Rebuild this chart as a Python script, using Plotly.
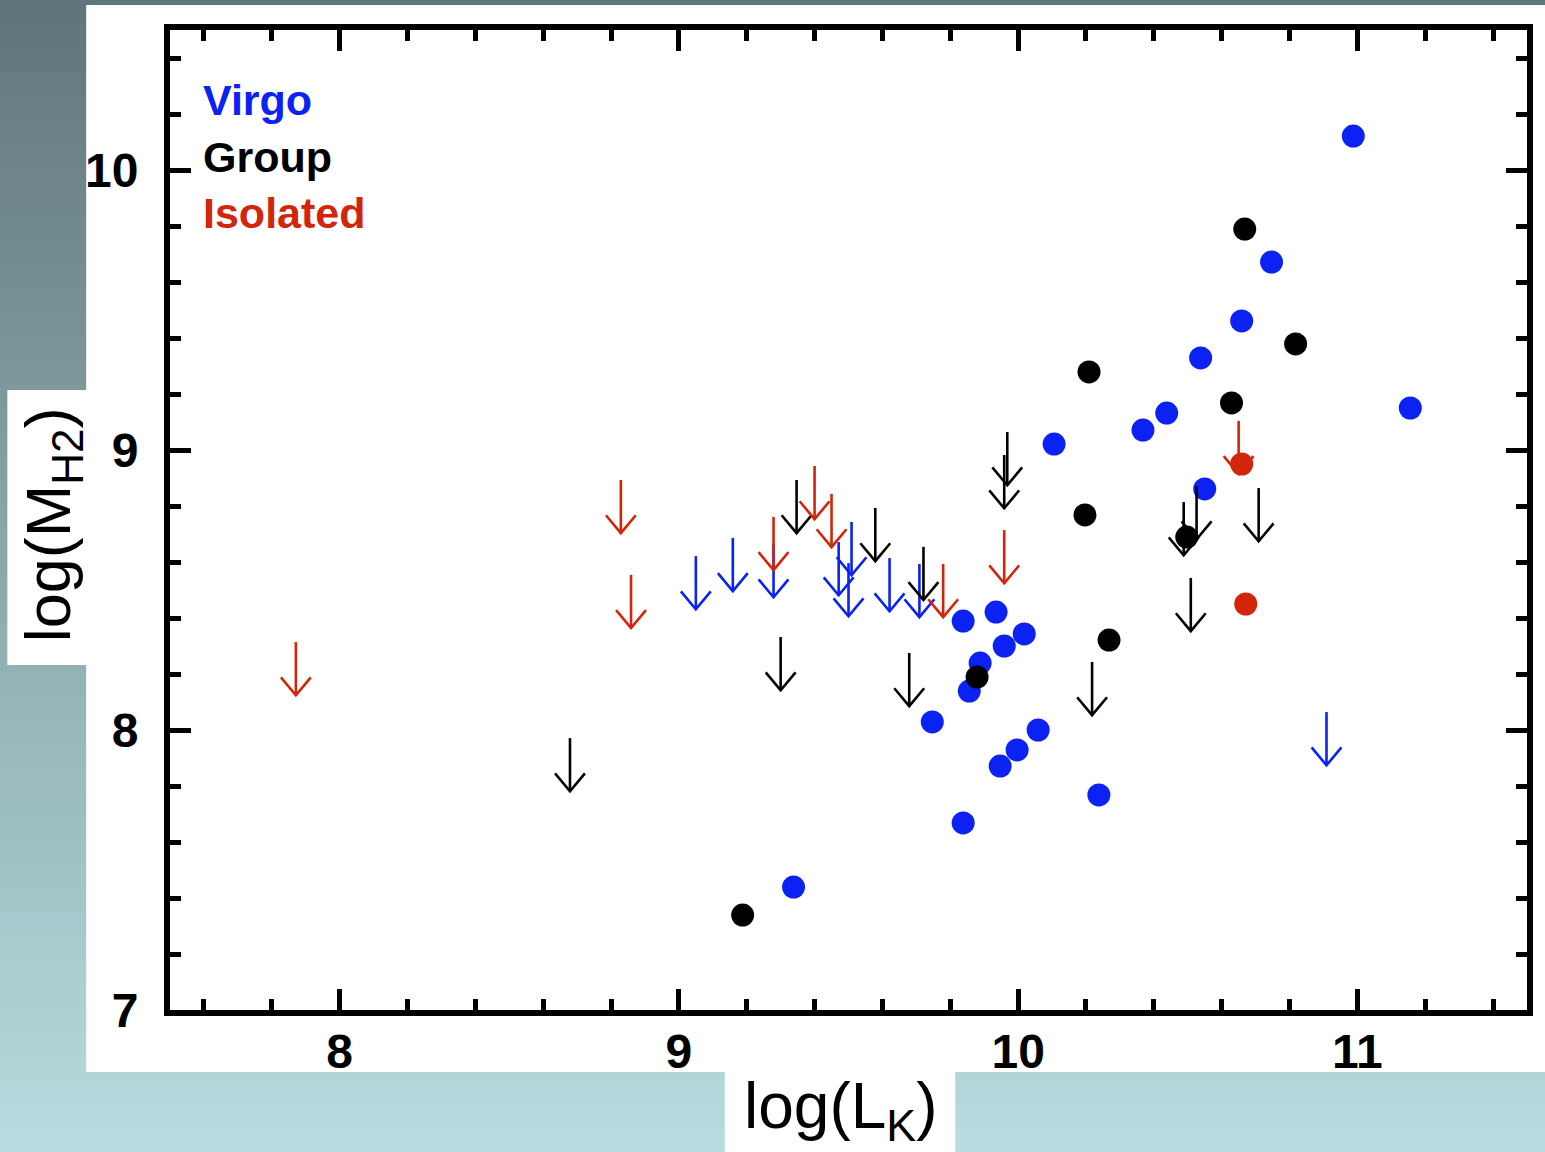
import plotly.graph_objects as go

# ---------------- data ----------------
virgo_x = [10.988, 10.747, 10.659, 10.538, 11.156, 10.438, 10.368, 10.106, 10.55,
           9.838, 9.935, 10.018, 9.959, 9.888, 9.856, 9.747, 10.059, 9.997, 9.947,
           10.238, 9.838, 9.338]
virgo_y = [10.121, 9.671, 9.461, 9.329, 9.15, 9.132, 9.071, 9.021, 8.861,
           8.389, 8.421, 8.343, 8.30, 8.239, 8.139, 8.029, 8.00, 7.929, 7.871,
           7.768, 7.668, 7.439]

group_x = [10.668, 10.818, 10.209, 10.629, 10.197, 10.497, 10.268, 9.879, 9.188]
group_y = [9.789, 9.379, 9.279, 9.168, 8.768, 8.689, 8.321, 8.189, 7.339]

isolated_x = [10.659, 10.671]
isolated_y = [8.95, 8.45]

# upper limits (arrow start points)
virgo_lim_x = [9.05, 9.159, 9.279, 9.471, 9.509, 9.50, 9.621, 9.709, 10.909]
virgo_lim_y = [8.621, 8.686, 8.664, 8.671, 8.743, 8.596, 8.614, 8.593, 8.064]

group_lim_x = [8.679, 9.30, 9.347, 9.579, 9.679, 9.721, 9.968, 9.959, 10.218,
               10.488, 10.526, 10.509, 10.709]
group_lim_y = [7.971, 8.332, 8.893, 8.793, 8.275, 8.654, 9.064, 8.982, 8.243,
               8.814, 8.871, 8.543, 8.864]

isolated_lim_x = [7.871, 8.829, 8.859, 9.279, 9.40, 9.45, 9.779, 9.959, 10.65]
isolated_lim_y = [8.314, 8.893, 8.554, 8.761, 8.943, 8.843, 8.593, 8.714, 9.104]

x_ticks = [8, 9, 10, 11]
y_ticks = [7, 8, 9, 10]
legend_labels = ["Virgo", "Group", "Isolated"]

# ---------------- style ----------------
BLUE = "#0B22F2"
BLACK = "#000000"
RED = "#D2250A"
W, H = 1545, 1152
ML, MR, MT, MB = 170, 15, 30, 142
PW, PH = W - ML - MR, H - MT - MB

ARROW_LEN = 0.19
HEAD_DX = 0.044
HEAD_DY = 0.064


def px2paper_x(px):
    return (px - ML) / PW


def px2paper_y(py):
    return (H - MB - py) / PH


def arrow_path(xs, ys):
    ox, oy = [], []
    for x, y in zip(xs, ys):
        tip = y - ARROW_LEN
        ox += [x, x, None, x - HEAD_DX, x, x + HEAD_DX, None]
        oy += [y, tip, None, tip + HEAD_DY, tip, tip + HEAD_DY, None]
    return ox, oy


fig = go.Figure()

fig.add_trace(go.Scatter(x=virgo_x, y=virgo_y, mode="markers",
                         marker=dict(size=23, color=BLUE), showlegend=False))
for lx, ly, col in [(virgo_lim_x, virgo_lim_y, BLUE),
                    (group_lim_x, group_lim_y, BLACK),
                    (isolated_lim_x, isolated_lim_y, RED)]:
    ax_, ay_ = arrow_path(lx, ly)
    fig.add_trace(go.Scatter(x=ax_, y=ay_, mode="lines",
                             line=dict(color=col, width=2.6),
                             showlegend=False, hoverinfo="skip"))
fig.add_trace(go.Scatter(x=group_x, y=group_y, mode="markers",
                         marker=dict(size=23, color=BLACK), showlegend=False))
fig.add_trace(go.Scatter(x=isolated_x, y=isolated_y, mode="markers",
                         marker=dict(size=23, color=RED), showlegend=False))

# background gradient
shapes = []
top = (96, 117, 121)
bot = (184, 221, 224)
n = 48
for i in range(n):
    y0p = i * H / n
    y1p = (i + 1) * H / n + 1
    t = (i + 0.5) / n
    c = tuple(int(round(top[k] + (bot[k] - top[k]) * t)) for k in range(3))
    shapes.append(dict(type="rect", xref="paper", yref="paper", layer="below",
                       x0=px2paper_x(-10), x1=px2paper_x(W + 10),
                       y0=px2paper_y(y1p), y1=px2paper_y(y0p),
                       fillcolor="rgb(%d,%d,%d)" % c, line=dict(width=0)))
# white panels
for (x0, x1, y0, y1) in [(86, W + 10, 5, 1072), (7, 90, 390, 665), (726, 957, 1068, 1160)]:
    shapes.append(dict(type="rect", xref="paper", yref="paper", layer="below",
                       x0=px2paper_x(x0), x1=px2paper_x(x1),
                       y0=px2paper_y(y1), y1=px2paper_y(y0),
                       fillcolor="white", line=dict(width=0)))

annotations = []
leg_colors = [BLUE, BLACK, RED]
leg_py = [100, 157, 213]
for lab, col, py in zip(legend_labels, leg_colors, leg_py):
    annotations.append(dict(text="<b>%s</b>" % lab, xref="paper", yref="paper",
                            x=px2paper_x(201), y=px2paper_y(py),
                            xanchor="left", yanchor="middle", showarrow=False,
                            font=dict(family="Liberation Sans", size=43, color=col)))
annotations.append(dict(text="log(L<sub>K</sub>)", xref="paper", yref="paper",
                        x=px2paper_x(842), y=px2paper_y(1110),
                        xanchor="center", yanchor="middle", showarrow=False,
                        font=dict(family="Liberation Sans", size=64, color="black")))
annotations.append(dict(text="log(M<sub>H2</sub>)", xref="paper", yref="paper",
                        x=px2paper_x(52), y=px2paper_y(525), textangle=-90,
                        xanchor="center", yanchor="middle", showarrow=False,
                        font=dict(family="Liberation Sans", size=63, color="black")))

axis_common = dict(showline=True, linewidth=6, linecolor="black", mirror="ticks",
                   ticks="inside", ticklen=21, tickwidth=5, tickcolor="black",
                   showgrid=False, zeroline=False,
                   tickfont=dict(family="Liberation Sans", size=48, color="black",
                                 weight="bold"),
                   minor=dict(ticks="inside", ticklen=11, tickwidth=5,
                              tickcolor="black", dtick=0.2, showgrid=False))

fig.update_layout(
    width=W, height=H,
    margin=dict(l=ML, r=MR, t=MT, b=MB),
    paper_bgcolor="rgb(150,180,185)",
    plot_bgcolor="white",
    shapes=shapes,
    annotations=annotations,
    xaxis=dict(range=[7.5, 11.5], tickvals=x_ticks, ticktext=[str(v) for v in x_ticks],
               ticklabelstandoff=-6, **axis_common),
    yaxis=dict(range=[7, 10.5], tickvals=y_ticks, ticktext=[str(v) for v in y_ticks],
               ticklabelstandoff=16, **axis_common),
    showlegend=False,
)

fig.write_html("out.html",
               config={"displayModeBar": False},
               post_script="document.body.style.margin='0px';"
                           "document.body.style.overflow='hidden';")
